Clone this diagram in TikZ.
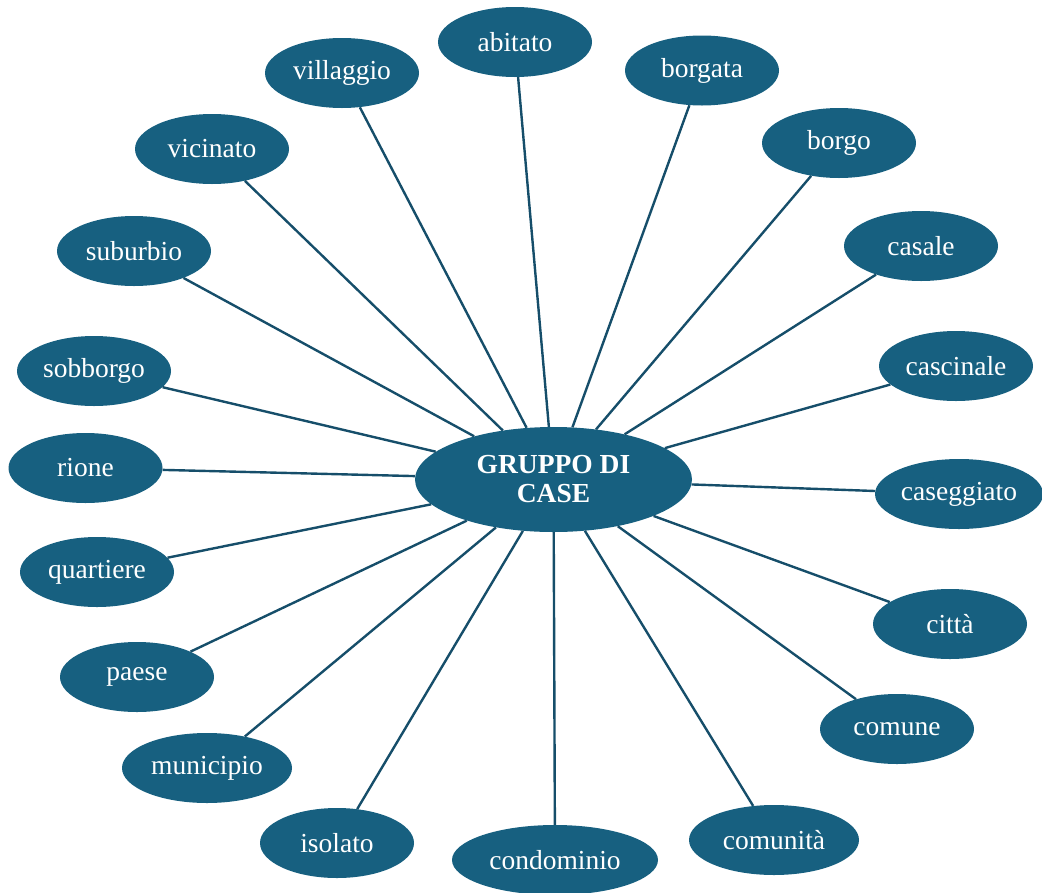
\documentclass[tikz,border=0pt]{standalone}
\usepackage{fontspec}
\setmainfont{Liberation Serif}
\usetikzlibrary{shapes.geometric}
\definecolor{nodefill}{RGB}{23,96,128}
\definecolor{linkcol}{RGB}{22,78,106}
\tikzset{
  sat/.style={ellipse, fill=nodefill, text=white, inner sep=0pt,
    minimum width=154pt, minimum height=70pt,
    font=\fontsize{27.5}{30}\selectfont},
  hub/.style={ellipse, fill=nodefill, text=white, inner sep=0pt,
    minimum width=277pt, minimum height=105pt, align=center,
    font=\fontsize{27.5}{29}\selectfont\bfseries},
  link/.style={draw=linkcol, line width=2.4pt}
}
\begin{document}
\begin{tikzpicture}[x=1pt,y=-1pt]
\useasboundingbox (0,0) rectangle (1042,892);
\node[hub] (c) at (553.5,479.5) {GRUPPO DI\\CASE};
\node[sat] (abitato) at (515,42) {abitato};
\node[sat] (borgata) at (702,70.5) {borgata};
\node[sat] (borgo) at (839,143) {borgo};
\node[sat] (casale) at (921,246) {casale};
\node[sat] (cascinale) at (956,366) {cascinale};
\node[sat, minimum width=168pt] (caseggiato) at (959,494) {caseggiato};
\node[sat] (citta) at (950,624) {città};
\node[sat] (comune) at (897,729) {comune};
\node[sat, minimum width=170pt] (comunita) at (774,840) {comunità};
\node[sat, minimum width=206pt] (condominio) at (555,860) {condominio};
\node[sat] (isolato) at (337,843) {isolato};
\node[sat, minimum width=170pt] (municipio) at (207,768) {municipio};
\node[sat] (paese) at (137,677) {paese};
\node[sat] (quartiere) at (97,572) {quartiere};
\node[sat] (rione) at (85.5,468) {rione};
\node[sat] (sobborgo) at (94,371) {sobborgo};
\node[sat] (suburbio) at (134,251) {suburbio};
\node[sat] (vicinato) at (212,149) {vicinato};
\node[sat] (villaggio) at (342,73) {villaggio};
\foreach \n in {abitato,borgata,borgo,casale,cascinale,caseggiato,citta,comune,comunita,condominio,isolato,municipio,paese,quartiere,rione,sobborgo,suburbio,vicinato,villaggio}
  \draw[link] (c) -- (\n);
\end{tikzpicture}
\end{document}
